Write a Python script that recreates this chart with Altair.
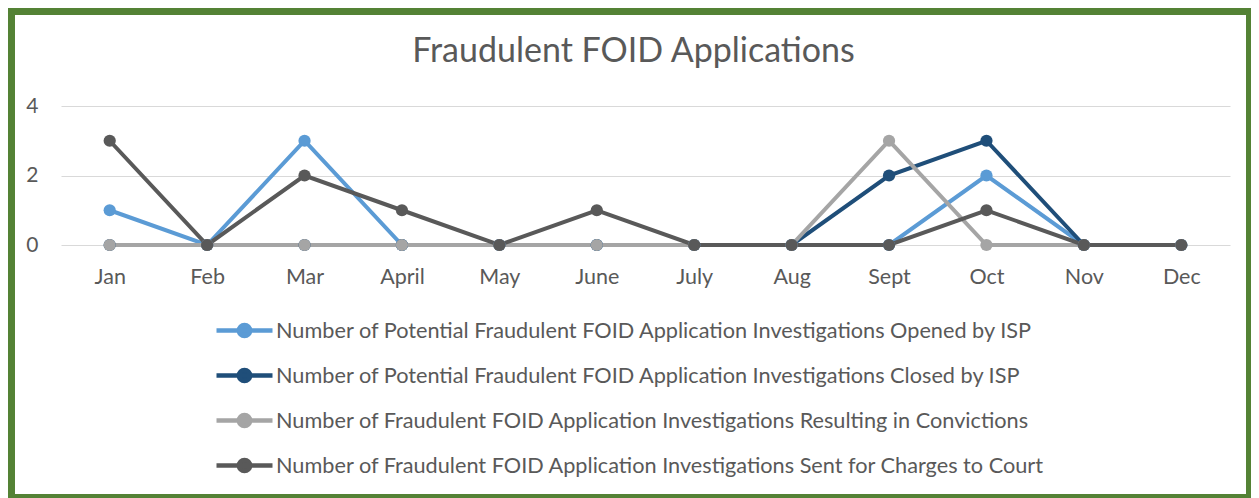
import altair as alt
import pandas as pd

months = ["Jan", "Feb", "Mar", "April", "May", "June", "July", "Aug", "Sept", "Oct", "Nov", "Dec"]
series_names = [
    "Number of Potential Fraudulent FOID Application Investigations Opened by ISP",
    "Number of Potential Fraudulent FOID Application Investigations Closed by ISP",
    "Number of Fraudulent FOID Application Investigations Resulting in Convictions",
    "Number of Fraudulent FOID Application Investigations Sent for Charges to Court",
]
opened = [1, 0, 3, 0, 0, 0, 0, 0, 0, 2, 0, 0]
closed = [0, 0, 0, 0, 0, 0, 0, 0, 2, 3, 0, 0]
convictions = [0, 0, 0, 0, 0, 0, 0, 0, 3, 0, 0, 0]
court = [3, 0, 2, 1, 0, 1, 0, 0, 0, 1, 0, 0]
colors = ["#5B9BD5", "#1F4E79", "#A5A5A5", "#595959"]
y_ticks = [0, 2, 4]

rows = []
for i, (name, vals) in enumerate(zip(series_names, [opened, closed, convictions, court])):
    for m, v in zip(months, vals):
        rows.append({"series": name, "order": i, "month": m, "value": v})
df = pd.DataFrame(rows)

FONT = "Lato"
TXT = "#595959"
sym_path = "M-1.037,0L1.037,0M-0.207,0A0.207,0.207,0,1,0,0.207,0A0.207,0.207,0,1,0,-0.207,0Z"

W, H = 1231, 479

chart = alt.Chart(df).mark_line(
    strokeWidth=4,
    point=alt.OverlayMarkDef(filled=True, size=150, opacity=1),
).encode(
    x=alt.X("month:N", sort=months,
            scale=alt.Scale(type="point", domain=months, range=[46, 1215], padding=0.5),
            axis=alt.Axis(title=None, orient="bottom", offset=-(H - 230), ticks=False, tickSize=0,
                          domain=False, grid=False, labelAngle=0, labelPadding=21,
                          labelFont=FONT, labelFontSize=21.5, labelColor=TXT)),
    y=alt.Y("value:Q", scale=alt.Scale(domain=[0, 4], range=[230, 91], nice=False, zero=True),
            axis=alt.Axis(title=None, orient="left", offset=-47, values=y_ticks, ticks=False,
                          tickSize=0, domain=False, grid=True, gridColor="#D9D9D9", gridWidth=1,
                          labelPadding=24, labelFont=FONT, labelFontSize=21, labelColor=TXT)),
    color=alt.Color("series:N", sort=series_names,
                    scale=alt.Scale(domain=series_names, range=colors),
                    legend=alt.Legend(title=None, orient="none", legendX=200, legendY=286,
                                      direction="vertical", symbolType=sym_path, symbolSize=2916,
                                      symbolStrokeWidth=4.5, rowPadding=-5, padding=0,
                                      labelLimit=1200, labelFont=FONT, labelFontSize=21.7,
                                      labelColor=TXT, labelOffset=2)),
    detail="series:N",
    order="order:Q",
).properties(
    width=W,
    height=H,
    title=alt.TitleParams("Fraudulent FOID Applications", anchor="middle", frame="group",
                          font=FONT, fontSize=34, fontWeight="normal", color=TXT,
                          offset=-88, baseline="bottom", dx=3),
    autosize=alt.AutoSizeParams(type="none"),
    padding={"left": 7, "right": 5, "top": 7, "bottom": 7},
    background="#548235",
).configure_view(
    fill="white", strokeWidth=0,
)

chart.save("out.html", embed_options={"renderer": "svg", "actions": False})
